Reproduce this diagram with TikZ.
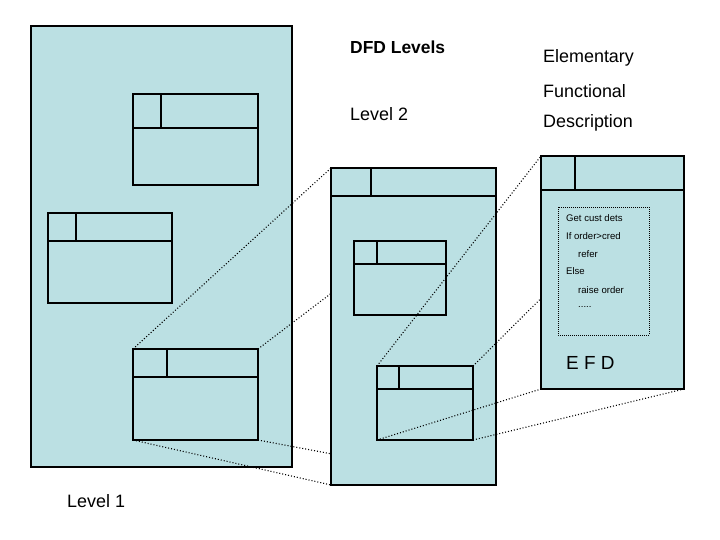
\documentclass[tikz,border=0pt]{standalone}
\usepackage{fontspec}
\setmainfont{Liberation Sans}
\definecolor{dfdblue}{RGB}{187,224,227}
\tikzset{
  panel/.style={draw,fill=dfdblue,line width=1.1bp},
  win/.style={draw,line width=1.1bp},
  link/.style={line width=1.1bp,dash pattern=on 1bp off 2bp},
  big/.style={font=\fontsize{18}{21}\selectfont,anchor=west,inner sep=0pt},
  small/.style={font=\fontsize{9.6}{11}\selectfont,anchor=west,inner sep=0pt}
}
\begin{document}
\begin{tikzpicture}[x=1bp,y=-1bp]
        \useasboundingbox (0,0) rectangle (720,540);
        % Level 1
        \draw[panel] (31,26) rectangle (292,467);
        \draw[win] (133,94) rectangle (258,185);
        \draw[win] (133,128) -- (258,128) (161,94) -- (161,128);
        \draw[win] (48,213) rectangle (172,303);
        \draw[win] (48,241) -- (172,241) (76,213) -- (76,241);
        \coordinate (C1) at (133,349);
        \coordinate (C2) at (258,349);
        \coordinate (C3) at (258,440);
        \coordinate (C4) at (133,440);
        \draw[win] (C1) rectangle (C3);
        \draw[win] (133,377) -- (258,377) (167,349) -- (167,377);
        % Level 2
        \coordinate (L1) at (331,168);
        \coordinate (L2) at (496,168);
        \coordinate (L3) at (496,485);
        \coordinate (L4) at (331,485);
        \draw[link] (C1) -- (L1) (C2) -- (L2) (C3) -- (L3) (C4) -- (L4);
        \draw[panel] (L1) rectangle (L3);
        \draw[win] (331,196) -- (496,196) (371,168) -- (371,196);
        \draw[win] (354,241) rectangle (446,315);
        \draw[win] (354,264) -- (446,264) (377,241) -- (377,264);
        \coordinate (E1) at (377,366);
        \coordinate (E2) at (473,366);
        \coordinate (E3) at (473,440);
        \coordinate (E4) at (377,440);
        \draw[win] (E1) rectangle (E3);
        \draw[win] (377,389) -- (473,389) (399,366) -- (399,389);
        % Elementary functional description
        \coordinate (F1) at (541,156);
        \coordinate (F2) at (684,156);
        \coordinate (F3) at (684,389);
        \coordinate (F4) at (541,389);
        \draw[link] (E1) -- (F1) (E2) -- (F2) (E3) -- (F3) (E4) -- (F4);
        \draw[panel] (F1) rectangle (F3);
        \draw[win] (541,190) -- (684,190) (575,156) -- (575,190);
        \draw[line width=0.9bp,dash pattern=on 1bp off 1bp] (558,207) rectangle (649,335);
        \node[small] (s1) at (566,218) {Get cust dets};
        \node[small] (s2) at (566,236) {If order>cred};
        \node[small] (s3) at (578,254) {refer};
        \node[small] (s4) at (566,271) {Else};
        \node[small] (s5) at (578,290) {raise order};
        \node[small] (s6) at (578,307) {.....};
        \node[big,font=\fontsize{19}{21}\selectfont] (efd) at (566,363) {E F D};
        % labels
        \node[big,font=\fontsize{17.5}{21}\bfseries] (title) at (350,47) {DFD Levels};
        \node[big] (lev2) at (350,114) {Level 2};
        \node[big] (lev1) at (67,501) {Level 1};
        \node[big] (el) at (543,58) {Elementary};
        \node[big] (fu) at (543,91) {Functional};
        \node[big] (de) at (543,123) {Description};
\end{tikzpicture}
\end{document}
